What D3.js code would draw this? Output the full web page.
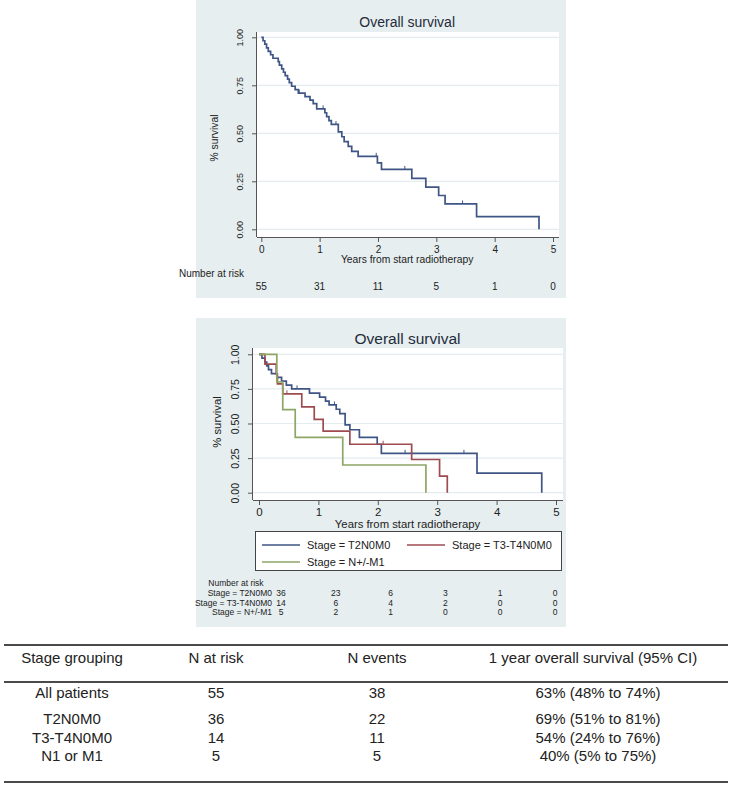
<!DOCTYPE html>
<html><head><meta charset="utf-8">
<script src="https://cdn.jsdelivr.net/npm/d3@7"></script>
<style>
html,body{margin:0;padding:0;background:#fff;}
svg{display:block;font-family:"Liberation Sans",Arial,sans-serif;}
</style></head>
<body><svg id="c" width="732" height="785"></svg>
<script>
// ---------- DATA ----------
const xTicks = [0,1,2,3,4,5];
const yTicks = [0,0.25,0.5,0.75,1];
const yTickLabels = ["0.00","0.25","0.50","0.75","1.00"];

// Overall KM (time of event, survival after event)
const allTimes = [0.03,0.06,0.09,0.12,0.16,0.20,0.29,0.31,0.35,0.38,0.41,0.45,0.48,0.52,0.58,0.635,0.75,0.835,0.89,0.95,1.09,1.12,1.16,1.20,1.32,1.38,1.42,1.49,1.55,1.66,1.99,2.06,2.58,2.82,3.04,3.15,3.69,4.76];
const allSurv  = [0.982,0.964,0.945,0.927,0.909,0.891,0.873,0.855,0.836,0.818,0.800,0.782,0.764,0.745,0.727,0.709,0.691,0.673,0.655,0.627,0.607,0.587,0.566,0.546,0.507,0.482,0.457,0.432,0.406,0.380,0.346,0.312,0.265,0.220,0.176,0.132,0.066,0];
const allCensor = [0.65,1.06,1.28,1.97,2.46,3.45];
const allRisk = [55,31,11,5,1,0];

// By stage
const t2Times = [0.05,0.10,0.13,0.16,0.21,0.30,0.38,0.46,0.55,0.85,1.02,1.12,1.18,1.30,1.36,1.45,1.53,1.69,1.99,2.06,3.67,4.76];
const t2Surv  = [0.972,0.944,0.917,0.889,0.861,0.833,0.806,0.778,0.750,0.719,0.690,0.662,0.634,0.603,0.572,0.490,0.455,0.400,0.350,0.284,0.142,0];
const t2Censor = [0.64,1.27,2.46,3.45];
const t3Times = [0.10,0.29,0.31,0.40,0.72,0.93,1.08,1.53,2.57,3.04,3.17];
const t3Surv  = [0.929,0.857,0.786,0.714,0.620,0.530,0.445,0.350,0.240,0.120,0];
const t3Censor = [0.47,2.09];
const nmTimes = [0.30,0.40,0.61,1.41,2.81];
const nmSurv  = [0.8,0.6,0.4,0.2,0];
const nmCensor = [];

const stageLabels = ["Stage = T2N0M0","Stage = T3-T4N0M0","Stage = N+/-M1"];
const stageColors = ["#3f5585","#9e4b50","#8ea567"];
const t2Risk = [36,23,6,3,1,0];
const t3Risk = [14,6,4,2,0,0];
const nmRisk = [5,2,1,0,0,0];

// Summary table
const tableHeader = ["Stage grouping","N at risk","N events","1 year overall survival (95% CI)"];
const tableGroups = ["All patients","T2N0M0","T3-T4N0M0","N1 or M1"];
const tableNRisk = [55,36,14,5];
const tableNEvents = [38,22,11,5];
const tableSurv = ["63% (48% to 74%)","69% (51% to 81%)","54% (24% to 76%)","40% (5% to 75%)"];

// ---------- DRAW ----------
const svg = d3.select("#c");
const PANEL = "#e6eef0", GRID = "#e4ecef", TXT = "#222", AX = "#555";

function kmPoints(times, surv){
  const pts = [[0,1]];
  times.forEach((t,i)=>pts.push([t,surv[i]]));
  return pts;
}
function survAt(times, surv, t){
  let s = 1;
  times.forEach((tt,i)=>{ if (tt <= t) s = surv[i]; });
  return s;
}

function drawChart(o){
  const g = svg.append("g");
  g.append("rect").attr("x",o.panel[0]).attr("y",o.panel[1]).attr("width",o.panel[2]).attr("height",o.panel[3]).attr("fill",PANEL);
  g.append("rect").attr("x",o.plot[0]).attr("y",o.plot[1]).attr("width",o.plot[2]).attr("height",o.plot[3]).attr("fill","#fff");
  const x = d3.scaleLinear().domain([0,5]).range(o.xr);
  const y = d3.scaleLinear().domain([0,1]).range(o.yr);
  const axB = o.plot[1]+o.plot[3], axL = o.plot[0];
  g.selectAll(null).data(yTicks).join("line")
    .attr("x1",o.plot[0]).attr("x2",o.plot[0]+o.plot[2])
    .attr("y1",d=>y(d)).attr("y2",d=>y(d)).attr("stroke",GRID).attr("stroke-width",1.2);
  const xa = g.append("g").attr("transform",`translate(0,${axB})`)
    .call(d3.axisBottom(x).tickValues(xTicks).tickFormat(d3.format("d")).tickSize(5).tickPadding(o.xpad).tickSizeOuter(0));
  xa.select(".domain").attr("d",`M${o.plot[0]},0.5H${o.plot[0]+o.plot[2]}`).attr("stroke",AX);
  xa.selectAll(".tick line").attr("stroke",AX);
  xa.selectAll("text").attr("font-size",o.tickFs).attr("fill",TXT).attr("font-family","Liberation Sans, Arial, sans-serif");
  const ya = g.append("g").attr("transform",`translate(${axL},0)`)
    .call(d3.axisLeft(y).tickValues(yTicks).tickFormat((d,i)=>yTickLabels[i]).tickSize(5).tickSizeOuter(0));
  ya.select(".domain").attr("d",`M-0.5,${o.plot[1]}V${axB}`).attr("stroke",AX);
  ya.selectAll(".tick line").attr("stroke",AX);
  ya.selectAll("text").attr("font-size",o.ytickFs).attr("fill",TXT)
    .attr("font-family","Liberation Sans, Arial, sans-serif")
    .attr("text-anchor","middle").attr("dy","0")
    .attr("transform",`translate(${-o.ylabOff},0) rotate(-90)`)
    .attr("x",0).attr("y",0).attr("dominant-baseline","central");
  g.append("text").attr("x",x(2.5)).attr("y",o.titleY).attr("text-anchor","middle")
    .attr("font-size",o.titleFs).attr("fill","#1f2b3a").text("Overall survival");
  g.append("text").attr("x",x(2.5)).attr("y",o.xtitleY).attr("text-anchor","middle")
    .attr("font-size",o.xtitleFs).attr("fill",TXT).text("Years from start radiotherapy");
  g.append("text").attr("transform",`translate(${o.ytitleX},${o.ytitleY}) rotate(-90)`)
    .attr("text-anchor","middle").attr("font-size",o.xtitleFs).attr("fill",TXT).text("% survival");
  const line = d3.line().x(d=>x(d[0])).y(d=>y(d[1])).curve(d3.curveStepAfter);
  o.series.forEach(s=>{
    g.append("path").attr("d",line(kmPoints(s.times,s.surv))).attr("fill","none")
      .attr("stroke",s.color).attr("stroke-width",1.7).attr("stroke-linejoin","miter");
    s.censor.forEach(c=>{
      const v = survAt(s.times,s.surv,c);
      g.append("line").attr("x1",x(c)).attr("x2",x(c)).attr("y1",y(v)-3.5).attr("y2",y(v))
        .attr("stroke",s.color).attr("stroke-width",1);
    });
  });
  return {x,y,g};
}

// Top chart
const topChart = drawChart({
  panel:[196,0,370,298], plot:[257,32,302,205],
  xr:[261.3,553], yr:[229.3,37.3], xpad:4,
  tickFs:10, ytickFs:9, ylabOff:17, titleY:27, titleFs:14, xtitleY:263, xtitleFs:10.3,
  ytitleX:218, ytitleY:138,
  series:[{times:allTimes,surv:allSurv,censor:allCensor,color:stageColors[0]}]
});
topChart.g.append("text").attr("x",179).attr("y",277).attr("font-size",10).attr("fill",TXT).text("Number at risk");
topChart.g.selectAll(null).data(allRisk).join("text")
  .attr("x",(d,i)=>topChart.x(xTicks[i])).attr("y",290).attr("text-anchor","middle")
  .attr("font-size",10).attr("fill",TXT).text(d=>d);

// Bottom chart
const botChart = drawChart({
  panel:[196,318,370,309], plot:[253,348,310,152],
  xr:[259,556], yr:[492.7,354.3], xpad:3,
  tickFs:11.5, ytickFs:10.5, ylabOff:18, titleY:343.5, titleFs:15.5, xtitleY:528, xtitleFs:11.3,
  ytitleX:221, ytitleY:422,
  series:[
    {times:t2Times,surv:t2Surv,censor:t2Censor,color:stageColors[0]},
    {times:t3Times,surv:t3Surv,censor:t3Censor,color:stageColors[1]},
    {times:nmTimes,surv:nmSurv,censor:nmCensor,color:stageColors[2]}
  ]
});
const lg = botChart.g.append("g");
lg.append("rect").attr("x",255.5).attr("y",531.5).attr("width",306).attr("height",39)
  .attr("fill","#fff").attr("stroke","#444").attr("stroke-width",1);
const legPos = [[262,545],[407,545],[262,562]];
stageLabels.forEach((lab,i)=>{
  const [lx,ly] = legPos[i];
  lg.append("line").attr("x1",lx).attr("x2",lx+38).attr("y1",ly).attr("y2",ly)
    .attr("stroke",stageColors[i]).attr("stroke-width",1.7);
  lg.append("text").attr("x",lx+45).attr("y",ly).attr("dominant-baseline","central")
    .attr("font-size",11).attr("fill",TXT).text(lab);
});
const riskX = d3.scaleLinear().domain([0,5]).range([281,555]);
const RFS = 8.5;
botChart.g.append("text").attr("x",236).attr("y",586).attr("text-anchor","middle")
  .attr("font-size",RFS).attr("fill",TXT).text("Number at risk");
[t2Risk,t3Risk,nmRisk].forEach((row,r)=>{
  const yy = 596 + r*9.5;
  botChart.g.append("text").attr("x",272).attr("y",yy).attr("text-anchor","end")
    .attr("font-size",RFS).attr("fill",TXT).text(stageLabels[r]);
  botChart.g.selectAll(null).data(row).join("text")
    .attr("x",(d,i)=>riskX(xTicks[i])).attr("y",yy).attr("text-anchor","middle")
    .attr("font-size",RFS).attr("fill",TXT).text(d=>d);
});

// Summary table
const colX = [72,216,377,593];
const tg = svg.append("g").attr("font-size",15).attr("fill",TXT);
[[645,2.2],[682,2],[782,2.2]].forEach(([yy,w])=>{
  tg.append("line").attr("x1",4).attr("x2",728).attr("y1",yy).attr("y2",yy)
    .attr("stroke","#4a4a4a").attr("stroke-width",w);
});
tableHeader.forEach((h,i)=>{
  tg.append("text").attr("x",colX[i]).attr("y",657).attr("text-anchor","middle")
    .attr("dominant-baseline","central").text(h);
});
const rowY = [692,718,737,755];
tableGroups.forEach((grp,r)=>{
  const vals = [grp,tableNRisk[r],tableNEvents[r],tableSurv[r]];
  vals.forEach((v,i)=>{
    tg.append("text").attr("x",colX[i]+(i===3?5:0)).attr("y",rowY[r]).attr("text-anchor","middle")
      .attr("dominant-baseline","central").text(v);
  });
});
</script></body></html>
